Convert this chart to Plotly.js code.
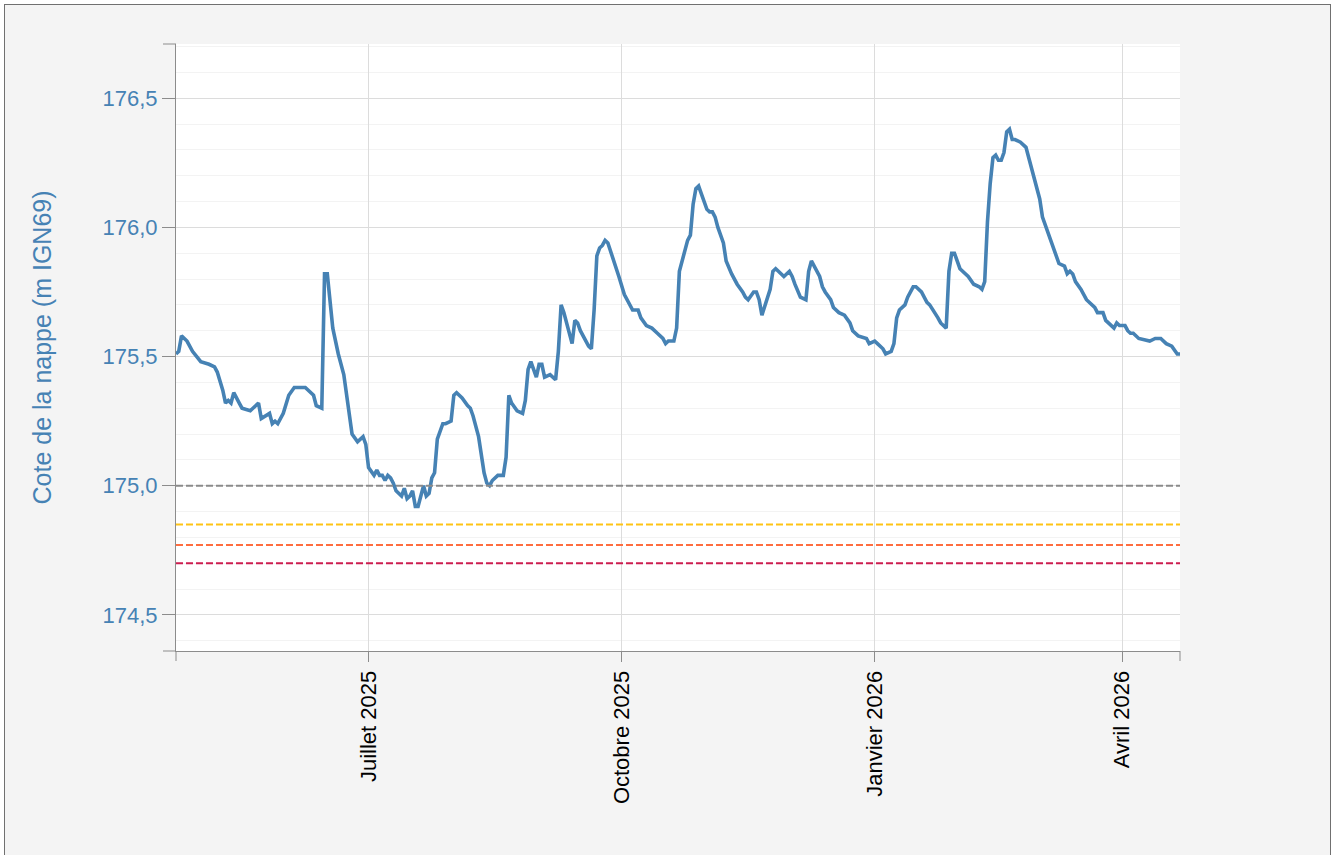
<!DOCTYPE html>
<html>
<head>
<meta charset="utf-8">
<script src="https://cdn.plot.ly/plotly-3.0.1.min.js"></script>
<style>
  html, body { margin: 0; padding: 0; background: #ffffff; overflow: hidden; }
  #frame {
    position: absolute; left: 4px; top: 4px; width: 1325px; height: 900px;
    border: 1.5px solid #707070; background: #f4f4f4;
  }
  #chart { position: absolute; left: 0; top: 0; width: 1332px; height: 855px; }
</style>
</head>
<body>
<div id="frame"></div>
<div id="chart"></div>
<script>
// niveau de la nappe (m IGN69), relevés
const dates = [
  '2025-04-22','2025-04-23','2025-04-24','2025-04-26','2025-04-28','2025-04-30',
  '2025-05-01','2025-05-04','2025-05-06','2025-05-07','2025-05-09','2025-05-10','2025-05-11','2025-05-12',
  '2025-05-13','2025-05-15','2025-05-16','2025-05-19','2025-05-21','2025-05-22','2025-05-23','2025-05-26',
  '2025-05-27','2025-05-28','2025-05-29','2025-05-31',
  '2025-06-02','2025-06-04','2025-06-08','2025-06-11','2025-06-12','2025-06-14','2025-06-15','2025-06-16',
  '2025-06-18','2025-06-20','2025-06-22','2025-06-25','2025-06-27','2025-06-28','2025-06-29','2025-06-30',
  '2025-07-01','2025-07-03','2025-07-04','2025-07-05','2025-07-06','2025-07-07','2025-07-08','2025-07-09',
  '2025-07-10','2025-07-11','2025-07-13','2025-07-14','2025-07-15','2025-07-16','2025-07-17','2025-07-18',
  '2025-07-19','2025-07-21','2025-07-22','2025-07-23','2025-07-24','2025-07-25','2025-07-26','2025-07-28',
  '2025-07-29','2025-07-31',
  '2025-08-01','2025-08-02','2025-08-04','2025-08-06','2025-08-07','2025-08-08','2025-08-10','2025-08-12',
  '2025-08-13','2025-08-14','2025-08-15','2025-08-17','2025-08-19','2025-08-20','2025-08-21','2025-08-22',
  '2025-08-24','2025-08-26','2025-08-27','2025-08-28','2025-08-29','2025-08-31',
  '2025-09-01','2025-09-02','2025-09-03','2025-09-05','2025-09-06','2025-09-07','2025-09-08','2025-09-09',
  '2025-09-10','2025-09-12','2025-09-13','2025-09-14','2025-09-15','2025-09-16','2025-09-17','2025-09-19',
  '2025-09-20','2025-09-21','2025-09-22','2025-09-23','2025-09-24','2025-09-25','2025-09-26','2025-09-28',
  '2025-09-30',
  '2025-10-02','2025-10-03','2025-10-04','2025-10-05','2025-10-07','2025-10-08','2025-10-10','2025-10-12',
  '2025-10-14','2025-10-16','2025-10-17','2025-10-18','2025-10-20','2025-10-21','2025-10-22','2025-10-24',
  '2025-10-25','2025-10-26','2025-10-27','2025-10-28','2025-10-29','2025-10-30','2025-10-31',
  '2025-11-01','2025-11-02','2025-11-03','2025-11-04','2025-11-05','2025-11-07','2025-11-08','2025-11-10',
  '2025-11-12','2025-11-14','2025-11-15','2025-11-16','2025-11-18','2025-11-19','2025-11-20','2025-11-21',
  '2025-11-22','2025-11-24','2025-11-25','2025-11-26','2025-11-27','2025-11-29',
  '2025-12-01','2025-12-02','2025-12-03','2025-12-05','2025-12-07','2025-12-08','2025-12-09','2025-12-10',
  '2025-12-12','2025-12-13','2025-12-14','2025-12-16','2025-12-17','2025-12-19','2025-12-21','2025-12-23',
  '2025-12-24','2025-12-26','2025-12-29','2025-12-30',
  '2026-01-01','2026-01-02','2026-01-04','2026-01-05','2026-01-07','2026-01-08','2026-01-09','2026-01-10',
  '2026-01-12','2026-01-13','2026-01-15','2026-01-16','2026-01-18','2026-01-20','2026-01-21','2026-01-24',
  '2026-01-25','2026-01-27','2026-01-28','2026-01-29','2026-01-30',
  '2026-02-01','2026-02-02','2026-02-04','2026-02-06','2026-02-08','2026-02-09','2026-02-10','2026-02-11',
  '2026-02-12','2026-02-13','2026-02-14','2026-02-15','2026-02-16','2026-02-17','2026-02-18','2026-02-19',
  '2026-02-20','2026-02-21','2026-02-23','2026-02-25','2026-02-26','2026-02-28',
  '2026-03-02','2026-03-03','2026-03-05','2026-03-07','2026-03-09','2026-03-11','2026-03-12','2026-03-13',
  '2026-03-14','2026-03-15','2026-03-17','2026-03-19','2026-03-22','2026-03-23','2026-03-25','2026-03-26',
  '2026-03-28','2026-03-29','2026-03-30','2026-03-31',
  '2026-04-02','2026-04-03','2026-04-04','2026-04-05','2026-04-07','2026-04-10','2026-04-11','2026-04-13',
  '2026-04-15','2026-04-17','2026-04-19','2026-04-21','2026-04-22'
];
const levels = [
  175.51,175.52,175.58,175.56,175.52,175.49,
  175.48,175.47,175.46,175.44,175.37,175.32,175.33,175.32,
  175.36,175.32,175.30,175.29,175.31,175.32,175.26,175.28,
  175.24,175.25,175.24,175.28,
  175.35,175.38,175.38,175.35,175.31,175.30,175.82,175.82,
  175.61,175.51,175.43,175.20,175.17,175.18,175.19,175.16,
  175.07,175.04,175.06,175.04,175.04,175.02,175.04,175.03,
  175.01,174.98,174.96,174.99,174.95,174.96,174.98,174.92,
  174.92,175.00,174.96,174.97,175.03,175.05,175.18,175.24,
  175.24,175.25,
  175.35,175.36,175.34,175.31,175.30,175.27,175.19,175.05,
  175.01,175.00,175.02,175.04,175.04,175.11,175.35,175.32,
  175.29,175.28,175.33,175.45,175.48,175.42,
  175.47,175.47,175.42,175.43,175.42,175.41,175.52,175.70,
  175.67,175.58,175.55,175.64,175.63,175.60,175.58,175.54,
  175.53,175.68,175.89,175.92,175.93,175.95,175.94,175.88,
  175.81,
  175.74,175.72,175.70,175.68,175.68,175.65,175.62,175.61,
  175.59,175.57,175.55,175.56,175.56,175.61,175.83,175.92,
  175.95,175.97,176.09,176.15,176.16,176.13,176.10,
  176.07,176.06,176.06,176.04,176.00,175.94,175.87,175.82,
  175.78,175.75,175.73,175.72,175.75,175.75,175.72,175.66,
  175.69,175.76,175.83,175.84,175.83,175.81,
  175.83,175.81,175.78,175.73,175.72,175.83,175.87,175.85,
  175.81,175.77,175.75,175.72,175.69,175.67,175.66,175.63,
  175.60,175.58,175.57,175.55,
  175.56,175.55,175.53,175.51,175.52,175.55,175.65,175.68,
  175.70,175.73,175.77,175.77,175.75,175.71,175.70,175.65,
  175.63,175.61,175.83,175.90,175.90,
  175.84,175.83,175.81,175.78,175.77,175.76,175.79,176.02,
  176.17,176.27,176.28,176.26,176.26,176.29,176.37,176.38,
  176.34,176.34,176.33,176.31,176.27,176.19,
  176.11,176.04,175.98,175.92,175.86,175.85,175.82,175.83,
  175.82,175.79,175.76,175.72,175.69,175.67,175.67,175.64,
  175.62,175.61,175.63,175.62,
  175.62,175.60,175.59,175.59,175.57,175.56,175.56,175.57,
  175.57,175.55,175.54,175.51,175.51
];

// seuils (m IGN69)
const thresholdLevels = [175.00, 174.85, 174.77, 174.70];
const thresholdColors = ['#8a8a8a', '#ffc414', '#ff6d3f', '#cc1d4f'];

const monthTicks = ['2025-07-01', '2025-10-01', '2026-01-01', '2026-04-01'];
const monthLabels = ['Juillet 2025', 'Octobre 2025', 'Janvier 2026', 'Avril 2026'];

const xRange = ['2025-04-22', '2026-04-22'];
const yRange = [174.36, 176.71];

const axisColor = '#8c8c8c';
const labelBlue = '#4682b4';
const fontFamily = '"Liberation Sans", Arial, sans-serif';

const data = [{
  x: dates, y: levels,
  type: 'scatter', mode: 'lines',
  line: { color: '#4682b4', width: 3.6 },
  hoverinfo: 'skip',
}];

const shapes = thresholdLevels.map((level, i) => ({
  type: 'line', xref: 'paper', yref: 'y',
  x0: 0, x1: 1, y0: level, y1: level,
  line: { color: thresholdColors[i], width: 2, dash: '7px,3px' },
  layer: 'above',
}));

// prolongements des axes (coins)
const plotW = 1332 - 176 - 152;
const plotH = 855 - 44 - 204;
shapes.push(
  { type: 'line', xref: 'paper', yref: 'paper', x0: 0, x1: 0, y0: 0, y1: -10 / plotH,
    line: { color: axisColor, width: 1 } },
  { type: 'line', xref: 'paper', yref: 'paper', x0: 1, x1: 1, y0: 0, y1: -10 / plotH,
    line: { color: axisColor, width: 1 } },
  { type: 'line', xref: 'paper', yref: 'paper', x0: -13 / plotW, x1: 0, y0: 0, y1: 0,
    line: { color: axisColor, width: 1 } },
  { type: 'line', xref: 'paper', yref: 'paper', x0: -13 / plotW, x1: 0, y0: 1, y1: 1,
    line: { color: axisColor, width: 1 } }
);

const layout = {
  width: 1332, height: 855,
  paper_bgcolor: 'rgba(0,0,0,0)',
  plot_bgcolor: '#ffffff',
  margin: { l: 176, r: 152, t: 44, b: 204 },
  separators: ', ',
  showlegend: false,
  font: { family: fontFamily, size: 22, color: '#000' },
  xaxis: {
    type: 'date',
    range: xRange,
    tickmode: 'array', tickvals: monthTicks, ticktext: monthLabels,
    tickangle: -90,
    tickfont: { size: 22, color: '#000', family: fontFamily },
    ticks: 'outside', ticklen: 10, tickcolor: axisColor,
    showline: true, linecolor: axisColor, linewidth: 1,
    showgrid: true, gridcolor: '#dcdcdc', gridwidth: 1,
    zeroline: false,
  },
  yaxis: {
    range: yRange,
    tickmode: 'linear', tick0: 174.5, dtick: 0.5,
    tickformat: '.1f',
    tickfont: { size: 22, color: labelBlue, family: fontFamily },
    ticks: 'outside', ticklen: 13, tickcolor: axisColor,
    showline: true, linecolor: axisColor, linewidth: 1,
    showgrid: true, gridcolor: '#dcdcdc', gridwidth: 1,
    zeroline: false,
    minor: { dtick: 0.1, tick0: 174.5, showgrid: true, gridcolor: '#f3f3f3', gridwidth: 1, ticks: '' },
    title: { text: 'Cote de la nappe (m IGN69)', font: { size: 25, color: labelBlue, family: fontFamily }, standoff: 43 },
  },
  shapes: shapes,
};

Plotly.newPlot('chart', data, layout, { displayModeBar: false, staticPlot: true });
</script>
</body>
</html>
